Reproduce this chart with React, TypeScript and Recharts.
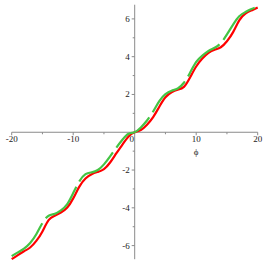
import React from 'react';
import { LineChart, Line, XAxis, YAxis, ReferenceLine, ReferenceDot } from 'recharts';

const phiValues = [-20,-19,-18,-17,-16,-15,-14,-13,-12,-11,-10,-9,-8,-7,-6,-5,-4,-3,-2,-1,0,1,2,3,4,5,6,7,8,9,10,11,12,13,14,15,16,17,18,19,20];
const redValues = [-6.72,-6.5,-6.3,-6.1,-5.75,-5.25,-4.65,-4.42,-4.25,-4.0,-3.5,-2.88,-2.45,-2.22,-2.1,-1.95,-1.6,-1.12,-0.65,-0.22,0,0.12,0.4,0.8,1.35,1.85,2.12,2.25,2.4,2.9,3.48,3.9,4.2,4.37,4.5,4.82,5.3,5.92,6.28,6.45,6.6];
const greenValues = [-6.56,-6.36,-6.16,-5.86,-5.4,-4.8,-4.42,-4.32,-4.14,-3.82,-3.22,-2.6,-2.22,-2.12,-2.0,-1.7,-1.28,-0.82,-0.4,-0.08,0,0.25,0.62,1.1,1.65,2.02,2.2,2.32,2.62,3.15,3.72,4.06,4.3,4.47,4.72,5.18,5.7,6.14,6.36,6.52,6.64];

const xMajorTicks = [-20, -10, 10, 20];
const xMinorTicks = [-15, -5, 5, 15];
const yMajorTicks = [-6, -4, -2, 2, 4, 6];
const yMinorTicks = [-5, -3, -1, 1, 3, 5];
const xAxisLabel = 'ϕ';

const data = phiValues.map((x, i) => ({ x, red: redValues[i], green: greenValues[i] }));

const AXIS = '#8a8a8a';
const TEXT = '#222';
const FONT = '"Liberation Serif", "DejaVu Serif", serif';

const fmt = (v: number) => (v < 0 ? '-' + Math.abs(v) : String(v));

export default function App() {
  return (
    <div style={{ position: 'absolute', left: 0, top: 0, width: 266, height: 266, background: '#fff' }}>
      <LineChart width={266} height={266} data={data} margin={{ top: 0, right: 8.3, bottom: 1.5, left: 11.7 }}>
        <XAxis type="number" dataKey="x" domain={[-20, 20]} hide />
        <YAxis type="number" domain={[-7, 7]} hide />
        <ReferenceLine segment={[{ x: -20, y: 0 }, { x: 20, y: 0 }]} stroke={AXIS} strokeWidth={1} />
        <ReferenceLine segment={[{ x: 0, y: -6.72 }, { x: 0, y: 6.75 }]} stroke={AXIS} strokeWidth={1} />
        {xMajorTicks.map((t) => (
          <ReferenceDot key={'xM' + t} x={t} y={0} r={0}
            shape={(p: any) => (
              <g>
                <line x1={p.cx} y1={p.cy} x2={p.cx} y2={p.cy + 3} stroke={AXIS} />
                <text x={p.cx} y={p.cy + 10} textAnchor="middle" fontSize={9} fontFamily={FONT} fill={TEXT}>{fmt(t)}</text>
              </g>
            )} />
        ))}
        {xMinorTicks.map((t) => (
          <ReferenceDot key={'xm' + t} x={t} y={0} r={0}
            shape={(p: any) => <line x1={p.cx} y1={p.cy} x2={p.cx} y2={p.cy + 2} stroke={AXIS} />} />
        ))}
        {yMajorTicks.map((t) => (
          <ReferenceDot key={'yM' + t} x={0} y={t} r={0}
            shape={(p: any) => (
              <g>
                <line x1={p.cx - 3} y1={p.cy} x2={p.cx} y2={p.cy} stroke={AXIS} />
                <text x={p.cx - 5} y={p.cy + 3} textAnchor="end" fontSize={9} fontFamily={FONT} fill={TEXT}>{fmt(t)}</text>
              </g>
            )} />
        ))}
        {yMinorTicks.map((t) => (
          <ReferenceDot key={'ym' + t} x={0} y={t} r={0}
            shape={(p: any) => <line x1={p.cx - 2} y1={p.cy} x2={p.cx} y2={p.cy} stroke={AXIS} />} />
        ))}
        <ReferenceDot x={0} y={0} r={0}
          shape={(p: any) => (
            <text x={p.cx - 3} y={p.cy + 10} textAnchor="middle" fontSize={9} fontFamily={FONT} fill={TEXT}>0</text>
          )} />
        <ReferenceDot x={10} y={0} r={0}
          shape={(p: any) => (
            <text x={p.cx} y={p.cy + 23} textAnchor="middle" fontSize={9} fontFamily={FONT} fill={TEXT}>{xAxisLabel}</text>
          )} />
        <Line type="natural" dataKey="red" stroke="#ff0000" strokeWidth={2.2} dot={false} isAnimationActive={false} />
        <Line type="natural" dataKey="green" stroke="#44c444" strokeWidth={2.2} strokeDasharray="46 6" dot={false} isAnimationActive={false} />
      </LineChart>
    </div>
  );
}
